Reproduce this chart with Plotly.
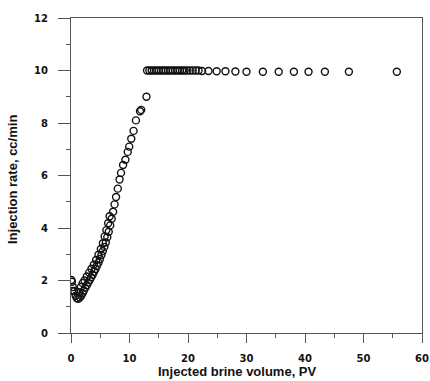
import plotly.graph_objects as go

# Injected brine volume (PV) and injection rate (cc/min)
pv_low = [0.05, 0.15, 0.3, 0.55, 0.8, 1.0, 1.25, 1.5, 1.75, 2.0, 2.2, 2.45, 2.7, 2.95,
          3.2, 3.45, 3.7, 3.95, 4.2, 4.45, 4.7, 4.95, 5.2, 5.45, 5.7, 5.95, 6.2, 6.45,
          6.7, 6.95, 7.2, 7.45, 7.7]
rate_low = [2.02, 1.95, 1.75, 1.6, 1.42, 1.32, 1.3, 1.35, 1.42, 1.52, 1.62, 1.72, 1.82, 1.92,
            2.02, 2.12, 2.22, 2.33, 2.44, 2.56, 2.68, 2.82, 2.97, 3.12, 3.28, 3.45, 3.65, 3.86,
            4.1, 4.35, 4.62, 4.9, 5.18]

pv_band = [0.2, 1.4, 1.7, 2.0, 2.3, 2.7, 3.1, 3.5, 3.9, 4.3, 4.7, 5.1, 5.45, 5.75, 6.05, 6.35, 6.6]
rate_band = [1.6, 1.55, 1.75, 1.9, 2.0, 2.15, 2.3, 2.45, 2.6, 2.78, 2.98, 3.2, 3.42, 3.68, 3.92, 4.18, 4.45]

pv_rise = [8.0, 8.3, 8.55, 8.9, 9.3, 9.7, 9.95, 10.3, 10.7, 11.1, 11.8, 12.0, 12.9]
rate_rise = [5.5, 5.85, 6.1, 6.4, 6.6, 6.9, 7.1, 7.4, 7.7, 8.1, 8.45, 8.5, 9.0]

pv_plateau = [13.0, 13.4, 13.8, 14.2, 14.6, 15.0, 15.4, 15.8, 16.2, 16.6, 17.0, 17.4, 17.8,
              18.2, 18.6, 19.0, 19.4, 19.8, 20.3, 20.8, 21.3, 21.8, 22.4, 23.5, 24.9, 26.4,
              28.1, 30.0, 32.8, 35.5, 38.1, 40.6, 43.4, 47.5, 55.7]
rate_plateau = [10.0] * 22 + [9.98, 9.98, 9.97, 9.97, 9.96, 9.95, 9.95, 9.95, 9.95, 9.95, 9.95, 9.95, 9.95]

x_ticks = [0, 10, 20, 30, 40, 50, 60]
y_ticks = [0, 2, 4, 6, 8, 10, 12]

pv = pv_low + pv_band + pv_rise + pv_plateau
rate = rate_low + rate_band + rate_rise + rate_plateau

fig = go.Figure()
fig.add_trace(go.Scatter(
    x=pv, y=rate, mode="markers",
    marker=dict(symbol="circle-open", size=7, color="#111", line=dict(width=1.4, color="#111")),
    showlegend=False, hoverinfo="skip",
))

tickfont = dict(family="DejaVu Sans", size=10, color="#111", weight="bold")
axis_common = dict(
    showgrid=False, zeroline=False, showline=True, linecolor="#555", linewidth=1,
    mirror=True, ticks="outside", tickcolor="#555", tickwidth=1, tickfont=tickfont,
    ticklabeloverflow="allow", automargin=False,
)
fig.update_xaxes(range=[0, 60], tickvals=x_ticks, ticklen=9, ticklabelstandoff=7,
                 minor=dict(ticks="outside", ticklen=4, dtick=5, tick0=0, tickcolor="#555"),
                 **axis_common)
fig.update_yaxes(range=[0, 12], tickvals=y_ticks, ticklen=12, ticklabelstandoff=8,
                 minor=dict(ticks="outside", ticklen=4, dtick=1, tick0=0, tickcolor="#555"),
                 **axis_common)

titlefont = dict(family="Liberation Sans", size=13, color="#111", weight="bold")
fig.add_annotation(text="Injected brine volume, PV", xref="paper", yref="paper",
                   x=0.475, y=-0.122, xanchor="center", yanchor="middle",
                   showarrow=False, font=titlefont)
fig.add_annotation(text="Injection rate, cc/min", xref="paper", yref="paper",
                   x=-0.165, y=0.486, xanchor="center", yanchor="middle", textangle=-90,
                   showarrow=False, font=titlefont)

fig.update_layout(
    width=430, height=381,
    margin=dict(l=71, r=8, t=18, b=48, autoexpand=False),
    paper_bgcolor="white", plot_bgcolor="white",
)
fig.write_html("out.html", config={"displayModeBar": False},
               post_script="document.body.style.margin='0';document.body.style.overflow='hidden';")
